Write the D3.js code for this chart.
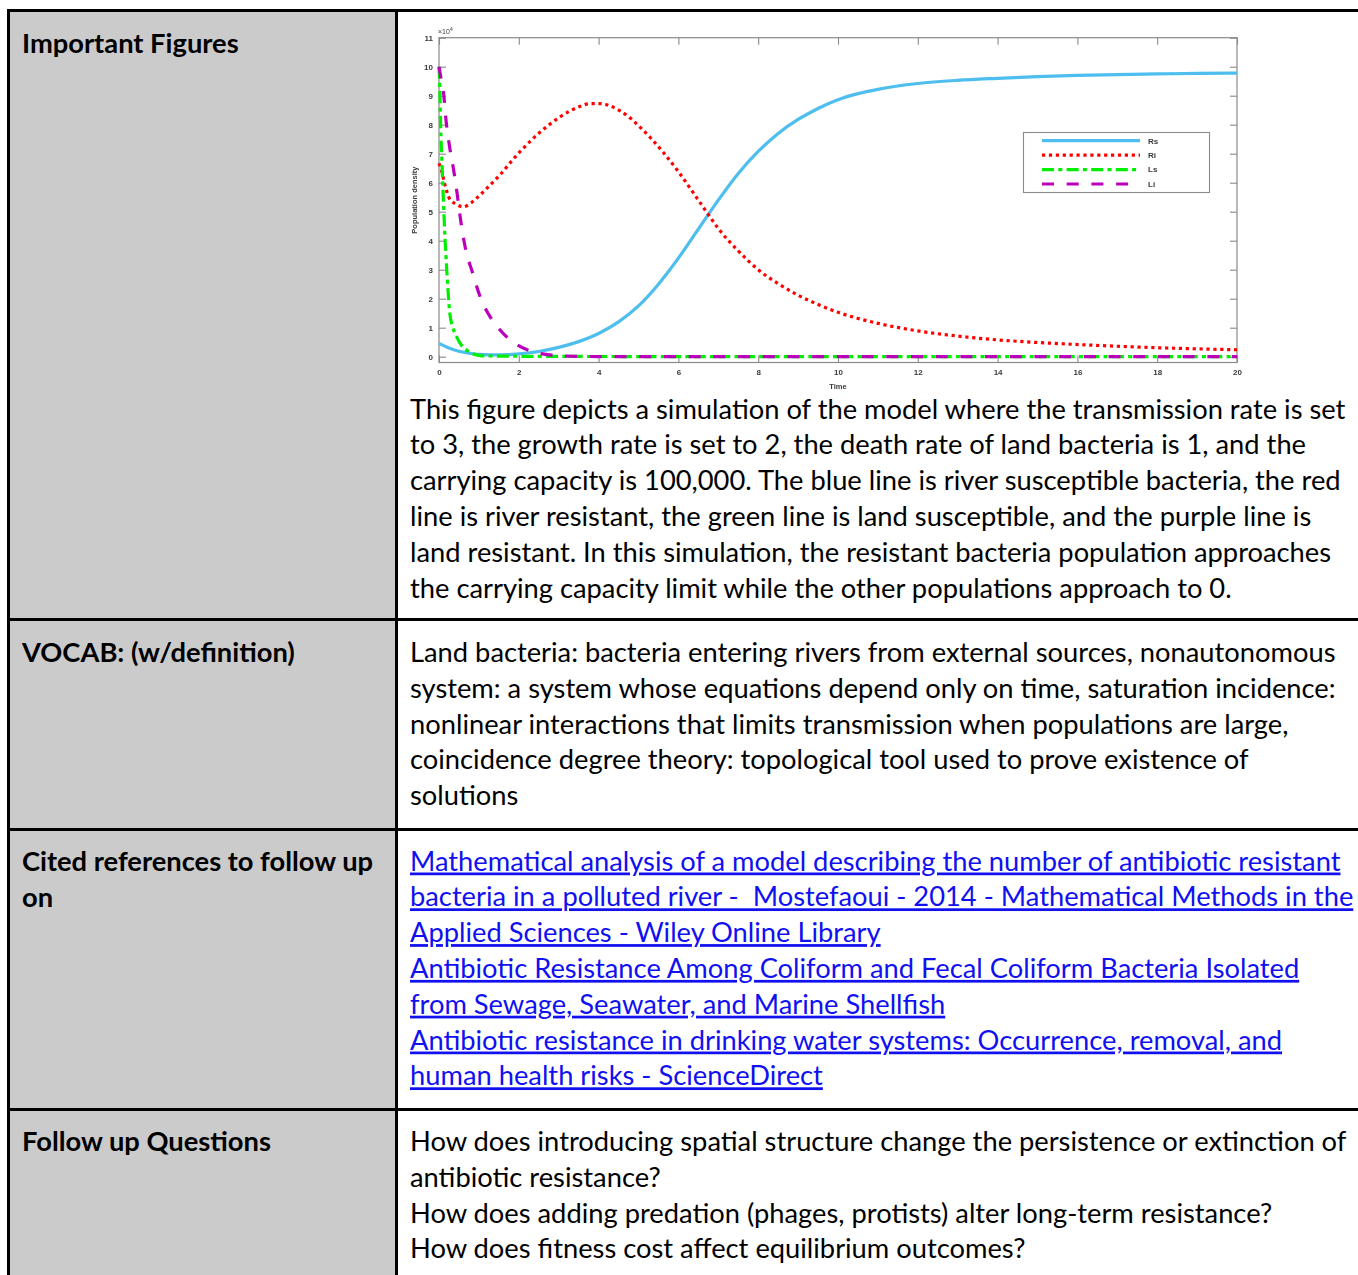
<!DOCTYPE html>
<html>
<head>
<meta charset="utf-8">
<script src="https://cdn.jsdelivr.net/npm/d3@7"></script>
<style>
  html, body { margin: 0; padding: 0; background: #ffffff; }
  svg { display: block; }
  svg text { white-space: pre; }
</style>
</head>
<body>
<svg id="page" width="1358" height="1275"></svg>
<script>
// ---------- simulation series (population in units of 10^4) ----------
const rsTime = [0, 0.25, 0.5, 0.75, 1, 1.5, 2, 2.5, 3, 3.5, 4, 4.5, 5, 5.5, 6, 6.5, 7, 7.5, 8, 8.5, 9, 9.5, 10, 10.5, 11, 12, 13, 14, 15, 16, 17, 18, 19, 20];
const rsValues = [0.46, 0.30, 0.19, 0.12, 0.08, 0.06, 0.10, 0.18, 0.32, 0.52, 0.80, 1.20, 1.75, 2.50, 3.40, 4.40, 5.40, 6.32, 7.08, 7.70, 8.18, 8.56, 8.86, 9.07, 9.22, 9.42, 9.53, 9.60, 9.66, 9.70, 9.73, 9.75, 9.77, 9.78];

const riTime = [0, 0.07, 0.15, 0.26, 0.44, 0.61, 0.8, 1.03, 1.28, 1.53, 1.78, 2.03, 2.28, 2.53, 2.78, 3.03, 3.28, 3.53, 3.8, 4.05, 4.3, 4.55, 4.8, 5.05, 5.3, 5.6, 6, 6.4, 6.7, 7, 7.5, 8, 8.5, 9, 9.5, 10, 10.5, 11, 12, 13, 14, 15, 16, 17, 18, 19, 20];
const riValues = [6.67, 6.38, 5.92, 5.46, 5.25, 5.17, 5.30, 5.58, 5.92, 6.27, 6.68, 7.07, 7.42, 7.74, 8.02, 8.27, 8.47, 8.63, 8.73, 8.73, 8.64, 8.47, 8.22, 7.90, 7.55, 7.08, 6.38, 5.60, 5.00, 4.42, 3.65, 3.00, 2.52, 2.12, 1.80, 1.53, 1.32, 1.15, 0.89, 0.71, 0.58, 0.49, 0.42, 0.36, 0.31, 0.27, 0.24];

const lsTime = [0, 0.02, 0.04, 0.07, 0.11, 0.15, 0.19, 0.23, 0.27, 0.35, 0.44, 0.55, 0.69, 0.85, 1.03, 1.3, 1.6, 2, 3, 5, 10, 20];
const lsValues = [10, 9.3, 8.0, 6.85, 5.4, 4.1, 3.1, 2.2, 1.5, 1.0, 0.69, 0.42, 0.23, 0.10, 0.04, 0.025, 0.02, 0.015, 0.01, 0.005, 0, 0];

const liTime = [0, 0.05, 0.11, 0.18, 0.27, 0.36, 0.46, 0.53, 0.69, 0.82, 1.03, 1.28, 1.53, 1.9, 2.36, 2.78, 3.2, 4, 6, 10, 20];
const liValues = [10, 9.6, 9.14, 8.1, 7.2, 6.5, 5.57, 4.83, 3.56, 2.99, 2.07, 1.38, 0.92, 0.46, 0.17, 0.06, 0.02, 0.005, 0, 0, 0];

const seriesNames = ["Rs", "Ri", "Ls", "Li"];
const xTicks = [0, 2, 4, 6, 8, 10, 12, 14, 16, 18, 20];
const yTicks = [0, 1, 2, 3, 4, 5, 6, 7, 8, 9, 10, 11];

// ---------- table text ----------
const rowHeaders = [
  ["Important Figures"],
  ["VOCAB: (w/definition)"],
  ["Cited references to follow up", "on"],
  ["Follow up Questions"]
];
const figureCaption = [
  "This figure depicts a simulation of the model where the transmission rate is set",
  "to 3, the growth rate is set to 2, the death rate of land bacteria is 1, and the",
  "carrying capacity is 100,000. The blue line is river susceptible bacteria, the red",
  "line is river resistant, the green line is land susceptible, and the purple line is",
  "land resistant. In this simulation, the resistant bacteria population approaches",
  "the carrying capacity limit while the other populations approach to 0."
];
const vocabLines = [
  "Land bacteria: bacteria entering rivers from external sources, nonautonomous",
  "system: a system whose equations depend only on time, saturation incidence:",
  "nonlinear interactions that limits transmission when populations are large,",
  "coincidence degree theory: topological tool used to prove existence of",
  "solutions"
];
const referenceLines = [
  "Mathematical analysis of a model describing the number of antibiotic resistant",
  "bacteria in a polluted river -  Mostefaoui - 2014 - Mathematical Methods in the",
  "Applied Sciences - Wiley Online Library",
  "Antibiotic Resistance Among Coliform and Fecal Coliform Bacteria Isolated",
  "from Sewage, Seawater, and Marine Shellfish",
  "Antibiotic resistance in drinking water systems: Occurrence, removal, and",
  "human health risks - ScienceDirect"
];
const questionLines = [
  "How does introducing spatial structure change the persistence or extinction of",
  "antibiotic resistance?",
  "How does adding predation (phages, protists) alter long-term resistance?",
  "How does fitness cost affect equilibrium outcomes?"
];

// ---------- layout ----------
const svg = d3.select("#page");
const W = 1358, H = 1275;
const colLeft = 8.5, colSplit = 396.5, tableTop = 10.5;
const rowLines = [619.5, 829.5, 1109.5];
const lineGap = 35.8;
const FONT = "Lato, 'Open Sans', sans-serif";

// left column shading
svg.append("rect")
  .attr("x", colLeft).attr("y", tableTop)
  .attr("width", colSplit - colLeft).attr("height", H - tableTop + 5)
  .attr("fill", "#cbcbcb");

// grid lines
const grid = svg.append("g").attr("stroke", "#000").attr("stroke-width", 3);
grid.append("line").attr("x1", colLeft - 1.5).attr("x2", W + 5).attr("y1", tableTop).attr("y2", tableTop);
grid.append("line").attr("x1", colLeft).attr("x2", colLeft).attr("y1", tableTop).attr("y2", H + 5);
grid.append("line").attr("x1", colSplit).attr("x2", colSplit).attr("y1", tableTop).attr("y2", H + 5);
rowLines.forEach(y => grid.append("line").attr("x1", colLeft).attr("x2", W + 5).attr("y1", y).attr("y2", y));

// size body font so a full line spans the text column
const probe = svg.append("text").attr("font-family", FONT).attr("font-size", 24).text(figureCaption[0]);
const fs = 24 * 936 / probe.node().getComputedTextLength();
probe.remove();

const headerBase = [53, 662, 871, 1151];
rowHeaders.forEach((lines, i) => {
  lines.forEach((t, j) => {
    svg.append("text")
      .attr("x", 22).attr("y", headerBase[i] + j * lineGap)
      .attr("font-family", FONT).attr("font-weight", 700).attr("font-size", fs)
      .attr("fill", "#000").text(t);
  });
});

function block(lines, y0, opts = {}) {
  lines.forEach((t, j) => {
    const el = svg.append("text")
      .attr("x", 410).attr("y", y0 + j * lineGap)
      .attr("font-family", FONT).attr("font-size", fs)
      .attr("fill", opts.color || "#000").text(t);
    if (opts.link) el.attr("text-decoration", "underline");
  });
}
block(figureCaption, 418.5);
block(vocabLines, 662);
block(referenceLines, 870.5, { color: "#1010f0", link: true });
block(questionLines, 1151);

// ---------- chart ----------
const defs = svg.append("defs");
defs.append("filter").attr("id", "soft").attr("x", "-5%").attr("y", "-5%").attr("width", "110%").attr("height", "110%")
  .append("feGaussianBlur").attr("stdDeviation", 0.45);
const chart = svg.append("g").attr("filter", "url(#soft)");

const x = d3.scaleLinear().domain([0, 20]).range([439, 1237]);
const y = d3.scaleLinear().domain([-0.2, 11]).range([362.5, 37.7]);
const axisColor = "#8a8a8a";
const tickFont = "'Liberation Sans', Arial, sans-serif";

function styleAxis(g, showLabels) {
  g.select(".domain").remove();
  g.selectAll(".tick line").attr("stroke", axisColor).attr("stroke-width", 1.1);
  g.selectAll(".tick text")
    .attr("font-family", tickFont).attr("font-size", 8).attr("font-weight", 700).attr("fill", "#3a3a3a");
  if (!showLabels) g.selectAll(".tick text").remove();
}

chart.append("g").attr("transform", `translate(0,${y(-0.2)})`)
  .call(d3.axisBottom(x).tickValues(xTicks).tickSizeInner(-7).tickSizeOuter(0).tickPadding(7))
  .call(g => styleAxis(g, true));
chart.append("g").attr("transform", `translate(0,${y(11)})`)
  .call(d3.axisTop(x).tickValues(xTicks).tickSizeInner(-7).tickSizeOuter(0))
  .call(g => styleAxis(g, false));
chart.append("g").attr("transform", `translate(${x(0)},0)`)
  .call(d3.axisLeft(y).tickValues(yTicks).tickSizeInner(-7).tickSizeOuter(0).tickPadding(6))
  .call(g => styleAxis(g, true));
chart.append("g").attr("transform", `translate(${x(20)},0)`)
  .call(d3.axisRight(y).tickValues(yTicks).tickSizeInner(-7).tickSizeOuter(0))
  .call(g => styleAxis(g, false));

// plot box
chart.append("rect")
  .attr("x", x(0)).attr("y", y(11))
  .attr("width", x(20) - x(0)).attr("height", y(-0.2) - y(11))
  .attr("fill", "none").attr("stroke", axisColor).attr("stroke-width", 1.2);

// exponent marker
const expo = chart.append("text").attr("x", x(0) - 1).attr("y", y(11) - 4)
  .attr("font-family", tickFont).attr("font-size", 7).attr("fill", "#3a3a3a");
expo.append("tspan").text("\u00d710");
expo.append("tspan").attr("dy", -3).attr("font-size", 5).text("4");

// axis titles
chart.append("text")
  .attr("transform", `translate(417,${y(5.4)}) rotate(-90)`)
  .attr("text-anchor", "middle")
  .attr("font-family", tickFont).attr("font-size", 7.5).attr("font-weight", 700).attr("fill", "#3a3a3a")
  .text("Population density");
chart.append("text")
  .attr("x", x(10)).attr("y", 388.5).attr("text-anchor", "middle")
  .attr("font-family", tickFont).attr("font-size", 7.5).attr("font-weight", 700).attr("fill", "#3a3a3a")
  .text("Time");

const styles = {
  Rs: { color: "#4dbeee", dash: null },
  Ri: { color: "#ff0000", dash: "3.2,3.7" },
  Ls: { color: "#00ee00", dash: "12,4.3,4,4.3" },
  Li: { color: "#bb00bb", dash: "12,12.7" }
};
const seriesData = {
  Rs: d3.zip(rsTime, rsValues),
  Ri: d3.zip(riTime, riValues),
  Ls: d3.zip(lsTime, lsValues),
  Li: d3.zip(liTime, liValues)
};

const line = d3.line().x(d => x(d[0])).y(d => y(d[1])).curve(d3.curveMonotoneX);
seriesNames.forEach(name => {
  chart.append("path")
    .datum(seriesData[name])
    .attr("d", line)
    .attr("fill", "none")
    .attr("stroke", styles[name].color)
    .attr("stroke-width", 3.2)
    .attr("stroke-dasharray", styles[name].dash);
});

// legend
const leg = chart.append("g");
leg.append("rect").attr("x", 1023.5).attr("y", 132.5).attr("width", 186).attr("height", 60)
  .attr("fill", "#fff").attr("stroke", axisColor).attr("stroke-width", 1.1);
const legY = d3.scalePoint().domain(seriesNames).range([140.7, 184]);
seriesNames.forEach(name => {
  leg.append("line")
    .attr("x1", 1042).attr("x2", 1140).attr("y1", legY(name)).attr("y2", legY(name))
    .attr("stroke", styles[name].color).attr("stroke-width", 3.2)
    .attr("stroke-dasharray", styles[name].dash);
  leg.append("text").attr("x", 1148).attr("y", legY(name) + 2.8)
    .attr("font-family", tickFont).attr("font-size", 8).attr("font-weight", 700).attr("fill", "#3a3a3a")
    .text(name);
});
</script>
</body>
</html>
